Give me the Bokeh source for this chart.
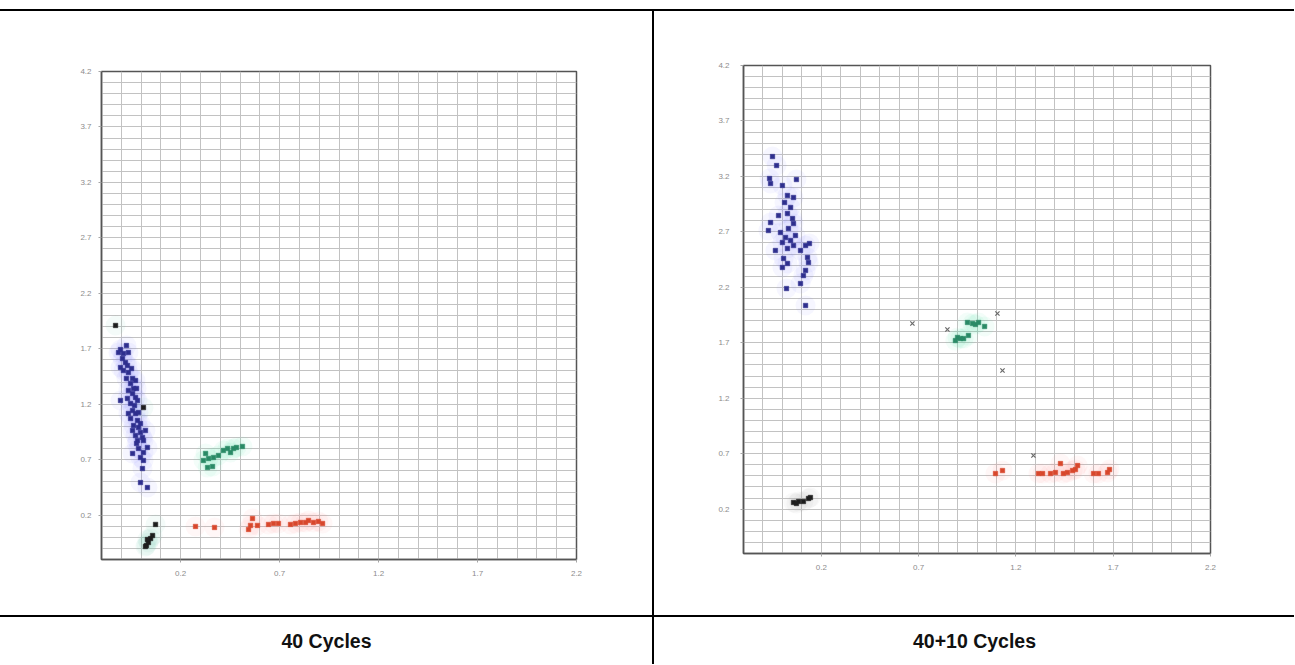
from bokeh.plotting import figure
from bokeh.layouts import column, row
from bokeh.models import Range1d, FixedTicker, SingleIntervalTicker, Div
from bokeh.embed import file_html
from bokeh.resources import INLINE
from bokeh.core.properties import value

# ---------------- data ----------------
X_TICKS = [0.2, 0.7, 1.2, 1.7, 2.2]
Y_TICKS = [0.2, 0.7, 1.2, 1.7, 2.2, 2.7, 3.2, 3.7, 4.2]
CAPTIONS = ["40 Cycles", "40+10 Cycles"]

# 40 cycles
c40_blue_x = [-0.104, -0.089, -0.064, -0.094, -0.079, -0.104, -0.089, -0.064, -0.043, -0.028,
              -0.053, -0.038, -0.064, -0.043, -0.028, -0.018, -0.104, -0.053, -0.043, -0.028,
              -0.053, -0.018, -0.038, -0.013, -0.043, -0.003, -0.028, 0.007, -0.018, 0.012,
              0.032, -0.013, 0.012, -0.043, -0.003, 0.012, 0.007, -0.003, 0.032, -0.074,
              -0.114, -0.069, -0.048, -0.074, -0.023, -0.069, -0.033, -0.013, -0.064, -0.003,
              -0.023, 0.022]
c40_blue_y = [1.693, 1.657, 1.666, 1.612, 1.576, 1.531, 1.504, 1.486, 1.432, 1.414,
              1.387, 1.342, 1.324, 1.297, 1.261, 1.234, 1.234, 1.207, 1.143, 1.116,
              1.071, 1.053, 1.008, 0.990, 0.963, 0.945, 0.918, 0.900, 0.873, 0.873,
              0.810, 0.801, 0.765, 0.756, 0.720, 0.693, 0.620, 0.494, 0.449, 1.729,
              1.666, 1.549, 1.522, 1.432, 1.342, 1.252, 1.189, 1.125, 1.116, 1.026,
              0.846, 0.963]
c40_green_x = [0.326, 0.341, 0.366, 0.336, 0.361, 0.391, 0.416, 0.437, 0.452, 0.467, 0.512, 0.482, 0.315]
c40_green_y = [0.756, 0.711, 0.720, 0.629, 0.638, 0.738, 0.783, 0.801, 0.765, 0.801, 0.819, 0.810, 0.693]
c40_red_x = [0.275, 0.371, 0.563, 0.553, 0.543, 0.588, 0.644, 0.669, 0.694, 0.755,
             0.780, 0.806, 0.831, 0.846, 0.871, 0.896, 0.917]
c40_red_y = [0.098, 0.089, 0.170, 0.107, 0.071, 0.107, 0.116, 0.125, 0.125, 0.116,
             0.125, 0.134, 0.134, 0.152, 0.134, 0.143, 0.125]
c40_ntc_x = [0.027, 0.037, 0.048, 0.032, 0.058, 0.073, 0.022, -0.129, 0.012]
c40_ntc_y = [-0.074, -0.047, -0.011, -0.020, 0.016, 0.116, -0.083, 1.910, 1.170]
c40_und_x = []
c40_und_y = []

# 40+10 cycles
c50_blue_x = [-0.051, -0.030, -0.066, -0.061, 0.000, 0.072, 0.026, 0.057, 0.011, 0.042,
              0.026, 0.052, 0.057, -0.061, -0.010, -0.072, 0.031, 0.016, 0.042, 0.000,
              0.057, 0.026, 0.093, 0.119, 0.129, 0.006, 0.026, 0.000, 0.119, 0.093,
              0.021, 0.119, 0.139, 0.134, 0.108, 0.067, -0.020, -0.036]
c50_blue_y = [3.379, 3.298, 3.181, 3.136, 3.118, 3.172, 3.028, 3.010, 2.965, 2.920,
              2.865, 2.820, 2.775, 2.784, 2.694, 2.712, 2.730, 2.649, 2.622, 2.604,
              2.577, 2.550, 2.532, 2.577, 2.469, 2.460, 2.415, 2.379, 2.352, 2.234,
              2.189, 2.036, 2.595, 2.424, 2.306, 2.667, 2.847, 2.532]
c50_green_x = [0.951, 0.977, 0.992, 1.039, 0.900, 0.915, 0.931, 0.956, 0.889, 1.008]
c50_green_y = [1.883, 1.874, 1.865, 1.847, 1.748, 1.738, 1.738, 1.766, 1.720, 1.883]
c50_red_x = [1.095, 1.131, 1.316, 1.337, 1.378, 1.403, 1.429, 1.444, 1.465, 1.491,
             1.506, 1.517, 1.599, 1.624, 1.671, 1.681]
c50_red_y = [0.521, 0.548, 0.521, 0.521, 0.521, 0.530, 0.611, 0.521, 0.530, 0.548,
             0.557, 0.593, 0.521, 0.521, 0.530, 0.557]
c50_ntc_x = [0.057, 0.083, 0.108, 0.134, 0.144, 0.072]
c50_ntc_y = [0.260, 0.269, 0.269, 0.296, 0.305, 0.251]
c50_und_x = [0.668, 0.848, 1.105, 1.131, 1.290]
c50_und_y = [1.874, 1.820, 1.964, 1.450, 0.684]

LW, VW, RW = 652, 2, 640
TOTAL_W = LW + VW + RW
ROW_H, PANEL_H, SHIFT, CAP_H = 604, 598, 6, 47


def bar(w, h, color):
    return Div(text="", width=w, height=h, margin=0,
               styles={"background-color": color})


def panel(w, left, right, ystand, groups):
    p = figure(width=w, height=PANEL_H, toolbar_location=None, output_backend="svg",
               x_range=Range1d(-0.2, 2.2), y_range=Range1d(-0.2, 4.2),
               min_border_left=left, min_border_right=right,
               min_border_top=54, min_border_bottom=56,
               background_fill_color="white", border_fill_color="white",
               outline_line_color="#555555", outline_line_width=1.5)
    p.xaxis.ticker = FixedTicker(ticks=X_TICKS)
    p.yaxis.ticker = FixedTicker(ticks=Y_TICKS)
    p.xgrid.ticker = SingleIntervalTicker(interval=0.1, num_minor_ticks=0)
    p.ygrid.ticker = SingleIntervalTicker(interval=0.1, num_minor_ticks=0)
    for g in (p.xgrid, p.ygrid):
        g.grid_line_color = "#c2c2c2"
        g.grid_line_width = 1
    for ax in (p.xaxis, p.yaxis):
        ax.axis_line_color = "#555555"
        ax.axis_line_width = 1.5
        ax.major_tick_line_color = "#a5a5a5"
        ax.major_tick_out = 3
        ax.major_tick_in = 0
        ax.minor_tick_line_color = None
        ax.major_label_text_font = "Liberation Sans"
        ax.major_label_text_font_size = "8px"
        ax.major_label_text_color = "#8c8c8c"
    p.xaxis.major_label_standoff = 8
    p.yaxis.major_label_standoff = ystand
    for xs, ys, mc, hc, mk in groups:
        if hc is not None and xs:
            p.scatter(xs, ys, size=20, marker="circle", fill_color=hc,
                      fill_alpha=0.07, line_color=None)
    for xs, ys, mc, hc, mk in groups:
        if not xs:
            continue
        if mk == "x":
            p.scatter(xs, ys, size=6, marker="x", line_color=mc, line_width=1.2)
        else:
            p.scatter(xs, ys, size=4.5, marker=mk, fill_color=mc, line_color=mc,
                      line_width=0.5)
    return p


groups40 = [
    (c40_blue_x, c40_blue_y, "#2e2f8e", "#7f7fff", "square"),
    (c40_green_x, c40_green_y, "#2a8a66", "#55e0a8", "square"),
    (c40_red_x, c40_red_y, "#d8472c", "#ff8c8c", "square"),
    (c40_ntc_x, c40_ntc_y, "#1e1e1e", "#66ccaa", "square"),
    (c40_und_x, c40_und_y, "#777777", None, "x"),
]
groups50 = [
    (c50_blue_x, c50_blue_y, "#2e2f8e", "#7f7fff", "square"),
    (c50_green_x, c50_green_y, "#2a8a66", "#55e0a8", "square"),
    (c50_red_x, c50_red_y, "#d8472c", "#ff8c8c", "square"),
    (c50_ntc_x, c50_ntc_y, "#1e1e1e", "#aaaaaa", "square"),
    (c50_und_x, c50_und_y, "#6a6a6a", None, "x"),
]

p_left = panel(LW, 101, 76, 7, groups40)
p_right = panel(RW, 89, 84, 11, groups50)


def caption(w, text):
    f = figure(width=w, height=CAP_H, x_axis_type=None, y_axis_type=None,
               toolbar_location=None, output_backend="svg",
               x_range=Range1d(-1, 1), y_range=Range1d(-1, 1),
               min_border=0, outline_line_color=None,
               background_fill_color="white", border_fill_color="white")
    f.text(x=[0], y=[0], text=[text], text_align="center", text_baseline="middle",
           text_font=value("Liberation Sans"), text_font_style="bold",
           text_font_size="19.5px", text_color="#111111")
    return f


layout = column(
    bar(TOTAL_W, 9, "white"),
    bar(TOTAL_W, 2, "black"),
    row(column(bar(LW, SHIFT, "white"), p_left, spacing=0),
        bar(VW, ROW_H, "black"),
        column(p_right, bar(RW, SHIFT, "white"), spacing=0),
        spacing=0),
    bar(TOTAL_W, 2, "black"),
    row(caption(LW, CAPTIONS[0]), bar(VW, CAP_H, "black"), caption(RW, CAPTIONS[1]),
        spacing=0),
    spacing=0,
)

open("out.html", "w").write(file_html(layout, INLINE))
